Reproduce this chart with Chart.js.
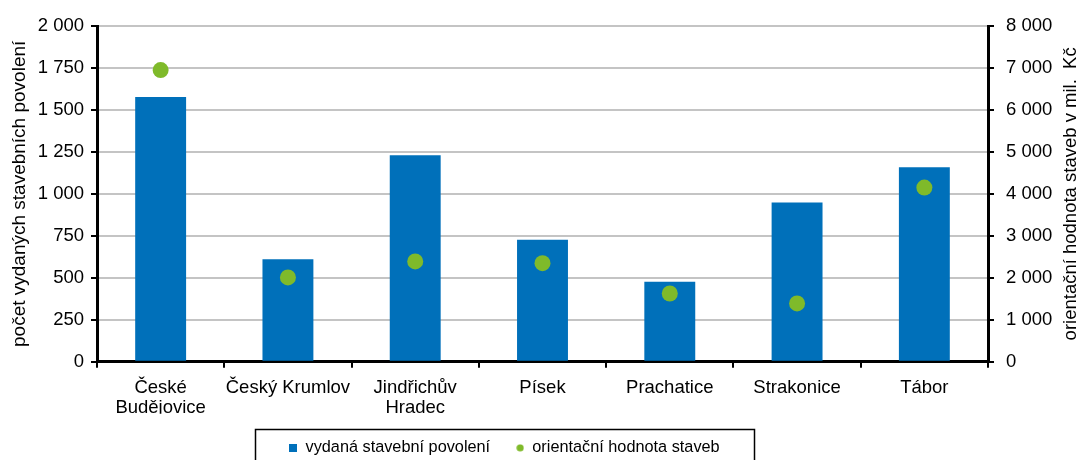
<!DOCTYPE html>
<html>
  <head>
    <title>Stavební povolení</title>
    <script src="https://cdn.jsdelivr.net/npm/chart.js"></script>
    <style>
      html, body { margin: 0; padding: 0; background: #fff; }
      #wrap { width: 1081px; height: 460px; }
    </style>
  </head>
  <body>
    <div id="wrap"><canvas id="permitChart"></canvas></div>

    <script>
      // okresy
      var districts = [
        ['České', 'Budějovice'],
        'Český Krumlov',
        ['Jindřichův', 'Hradec'],
        'Písek',
        'Prachatice',
        'Strakonice',
        'Tábor'
      ];
      // počet vydaných stavebních povolení
      var permits = [1577, 611, 1230, 726, 476, 948, 1159];
      // orientační hodnota staveb v mil. Kč
      var buildValue = [6950, 2008, 2389, 2349, 1626, 1389, 4150];

      var leftTicks = [0, 250, 500, 750, 1000, 1250, 1500, 1750, 2000];
      var rightTicks = [0, 1000, 2000, 3000, 4000, 5000, 6000, 7000, 8000];

      var barColor = '#0070BA';
      var dotColor = '#7FBA2A';

      function fmt(v) {
        return String(v).replace(/\B(?=(\d{3})+(?!\d))/g, ' ');
      }

      // malé značky do legendy
      function marker(shape, color) {
        var c = document.createElement('canvas');
        c.width = 8;
        c.height = 8;
        var g = c.getContext('2d');
        g.fillStyle = color;
        if (shape === 'circle') {
          g.beginPath();
          g.arc(4, 4, 3.6, 0, Math.PI * 2);
          g.fill();
        } else {
          g.fillRect(0, 0, 8, 8);
        }
        return c;
      }
      var squareMark = marker('rect', barColor);
      var circleMark = marker('circle', dotColor);

      Chart.defaults.font.family = '"Liberation Sans", Arial, sans-serif';
      Chart.defaults.color = '#000';

      var extras = {
        id: 'extras',
        afterLayout: function (chart) {
          // legenda je v originále trochu vlevo od středu
          var lg = chart.legend;
          if (lg) {
            lg.left -= 36;
            lg.right -= 36;
          }
        },
        afterDraw: function (chart) {
          var ctx = chart.ctx;
          ctx.save();
          // rámeček legendy
          ctx.strokeStyle = '#000';
          ctx.lineWidth = 1.5;
          ctx.strokeRect(255.5, 429.5, 499, 40);
          // titulek pravé osy (čte se zdola nahoru)
          var area = chart.chartArea;
          ctx.translate(1071, (area.top + area.bottom) / 2);
          ctx.rotate(-Math.PI / 2);
          ctx.fillStyle = '#000';
          ctx.font = '18.5px "Liberation Sans", Arial, sans-serif';
          ctx.textAlign = 'center';
          ctx.textBaseline = 'middle';
          ctx.fillText('orientační hodnota staveb v mil.  Kč', 0, 0);
          ctx.restore();
        }
      };

      var ctx = document.getElementById('permitChart').getContext('2d');
      var permitChart = new Chart(ctx, {
        data: {
          labels: districts,
          datasets: [
            {
              type: 'line',
              label: 'orientační hodnota staveb',
              data: buildValue,
              yAxisID: 'y1',
              showLine: false,
              pointRadius: 8,
              pointHoverRadius: 8,
              pointBackgroundColor: dotColor,
              pointBorderWidth: 0,
              backgroundColor: dotColor,
              borderColor: dotColor,
              order: 0
            },
            {
              type: 'bar',
              label: 'vydaná stavební povolení',
              data: permits,
              yAxisID: 'y',
              backgroundColor: barColor,
              borderColor: barColor,
              borderWidth: 0,
              barPercentage: 0.8,
              categoryPercentage: 0.5,
              order: 1
            }
          ]
        },
        options: {
          responsive: true,
          maintainAspectRatio: false,
          animation: false,
          layout: { padding: { top: 26, left: 0, right: 0, bottom: -6 } },
          plugins: {
            tooltip: { enabled: false },
            legend: {
              position: 'bottom',
              reverse: true,
              labels: {
                usePointStyle: true,
                boxWidth: 8,
                boxHeight: 8,
                padding: 26,
                font: { size: 16.3 },
                generateLabels: function (chart) {
                  var items = Chart.defaults.plugins.legend.labels.generateLabels(chart);
                  items.forEach(function (it) {
                    it.pointStyle = it.text === 'orientační hodnota staveb' ? circleMark : squareMark;
                    it.lineWidth = 0;
                  });
                  return items;
                }
              }
            }
          },
          scales: {
            x: {
              offset: true,
              afterFit: function (axis) { axis.height = 52; },
              grid: {
                display: true,
                offset: true,
                drawOnChartArea: false,
                drawTicks: true,
                tickLength: 6,
                color: '#000',
                lineWidth: 2
              },
              border: { color: '#000', width: 3 },
              ticks: {
                font: { size: 18.5, lineHeight: 1.1 },
                maxRotation: 0,
                autoSkip: false,
                padding: 10
              }
            },
            y: {
              position: 'left',
              min: 0,
              max: 2000,
              afterBuildTicks: function (axis) {
                axis.ticks = leftTicks.map(function (v) { return { value: v }; });
              },
              afterFit: function (axis) { axis.width = 97; },
              grid: { color: '#C4C4C4', lineWidth: 2, tickLength: 6, tickColor: '#000', tickWidth: 2 },
              border: { color: '#000', width: 3 },
              ticks: {
                font: { size: 18.5 },
                padding: 7,
                callback: function (v) { return fmt(v); }
              },
              title: {
                display: true,
                text: 'počet vydaných stavebních povolení',
                font: { size: 19 },
                padding: { top: 8, bottom: 0 }
              }
            },
            y1: {
              position: 'right',
              min: 0,
              max: 8000,
              afterBuildTicks: function (axis) {
                axis.ticks = rightTicks.map(function (v) { return { value: v }; });
              },
              afterFit: function (axis) { axis.width = 93; },
              grid: { drawOnChartArea: false, tickLength: 6, color: '#000', lineWidth: 2 },
              border: { color: '#000', width: 3 },
              ticks: {
                font: { size: 18.5 },
                padding: 12,
                callback: function (v) { return fmt(v); }
              }
            }
          }
        },
        plugins: [extras]
      });
    </script>
  </body>
</html>
